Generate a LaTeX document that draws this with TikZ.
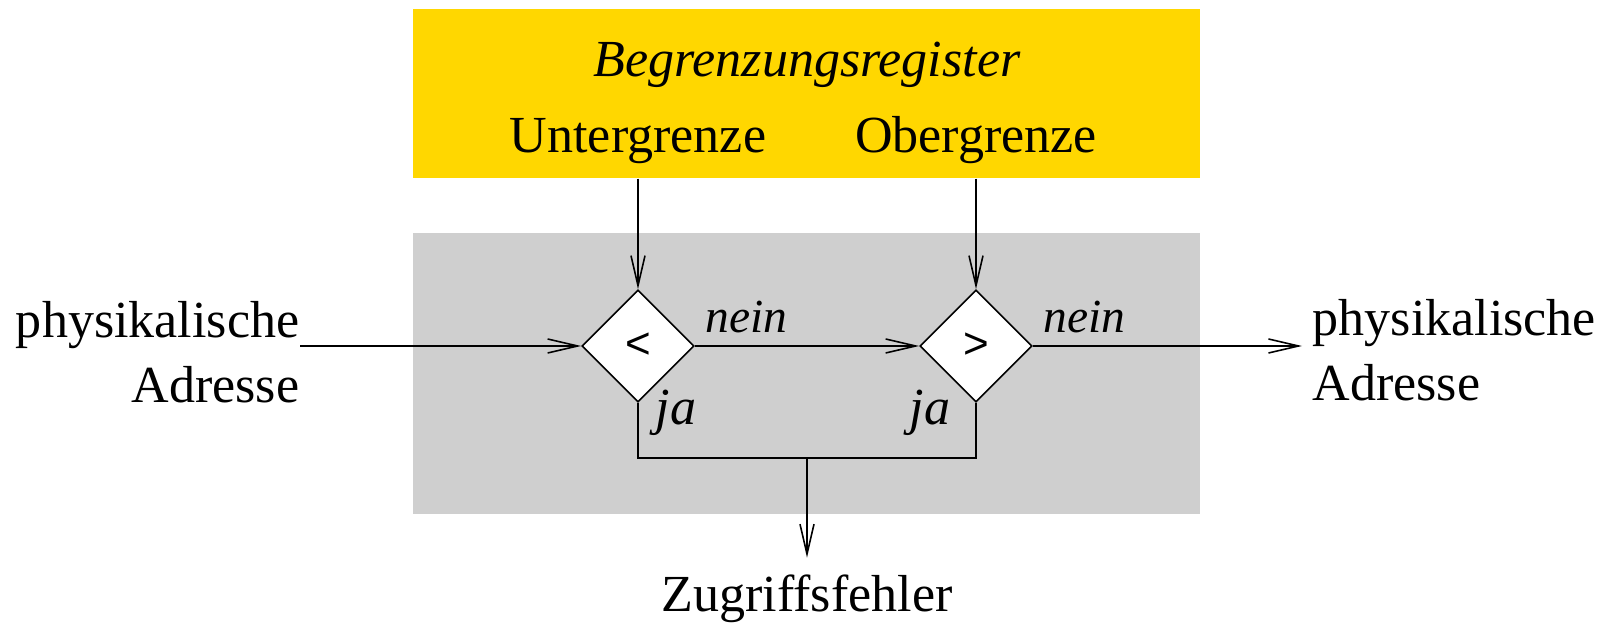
\documentclass[tikz,border=0pt]{standalone}
\usepackage{fontspec}
\setmainfont{Liberation Serif}
\setsansfont{Liberation Sans}
\usepackage{tikz}
\usetikzlibrary{shapes.geometric, arrows.meta, positioning}
\definecolor{reggold}{HTML}{FFD700}
\definecolor{cmpgray}{HTML}{CFCFCF}
\newcommand{\figfont}{\fontsize{14.8}{18.5}\selectfont}
\tikzstyle{arrow} = [line width=0.45pt, -{Straight Barb[length=0.3cm, width=0.14cm]}]
\tikzstyle{line}  = [line width=0.45pt]
\tikzstyle{area}  = [rectangle, inner sep=0, minimum width=7.87cm]
\tikzstyle{test}  = [diamond, draw, fill=white, line width=0.45pt, inner sep=0, minimum width=1.12cm, minimum height=1.12cm, font=\fontsize{12.5}{14}\selectfont\sffamily]
\tikzstyle{lbl}   = [inner sep=0, anchor=base]
\tikzset{every node/.style={font=\figfont}}

\begin{document}
\begin{tikzpicture}[x=0.01cm, y=-0.01cm]
    \useasboundingbox (0,0) rectangle (1608,625);
    % register block and comparator area
    \node (reg) at (806.5, 93.5)  [area, fill=reggold, minimum height=1.69cm] {};
    \node (cmp) at (806.5, 373.5) [area, fill=cmpgray, minimum height=2.81cm] {};

    \node (title) at (807, 77)  [lbl, font=\figfont\itshape] {Begrenzungsregister};
    \node (ug)    at (638, 153) [lbl] {Untergrenze};
    \node (og)    at (976, 153) [lbl] {Obergrenze};

    \node (lt) at (638, 346) [test] {<};
    \node (gt) at (976, 346) [test] {>};

    \node (addrin)  at (300, 403)  [lbl, anchor=base east, align=right] {physikalische\\Adresse};
    \node (addrout) at (1312, 401) [lbl, anchor=base west, align=left]  {physikalische\\Adresse};
    \node (err)     at (807, 612)  [lbl] {Zugriffsfehler};

    \node (no1)  at (705, 333)  [lbl, anchor=base west, font=\fontsize{13.5}{16}\selectfont\itshape] {nein};
    \node (no2)  at (1043, 333) [lbl, anchor=base west, font=\fontsize{13.5}{16}\selectfont\itshape] {nein};
    \node (yes1) at (655, 425)  [lbl, anchor=base west, font=\figfont\itshape] {ja};
    \node (yes2) at (951, 425)  [lbl, anchor=base east, font=\figfont\itshape] {ja};

    \coordinate (fork) at (807, 458);

    \draw [arrow] (ug |- reg.south) -- (lt);
    \draw [arrow] (og |- reg.south) -- (gt);
    \draw [arrow] (addrin.east |- lt) -- (lt);
    \draw [arrow] (lt) -- (gt);
    \draw [arrow, shorten >=0.1cm] (gt) -- (addrout.west |- gt);
    \draw [line]  (lt.south) |- (fork) -| (gt.south);
    \draw [arrow, shorten >=0.17cm] (fork) -- (err.north);
\end{tikzpicture}
\end{document}
